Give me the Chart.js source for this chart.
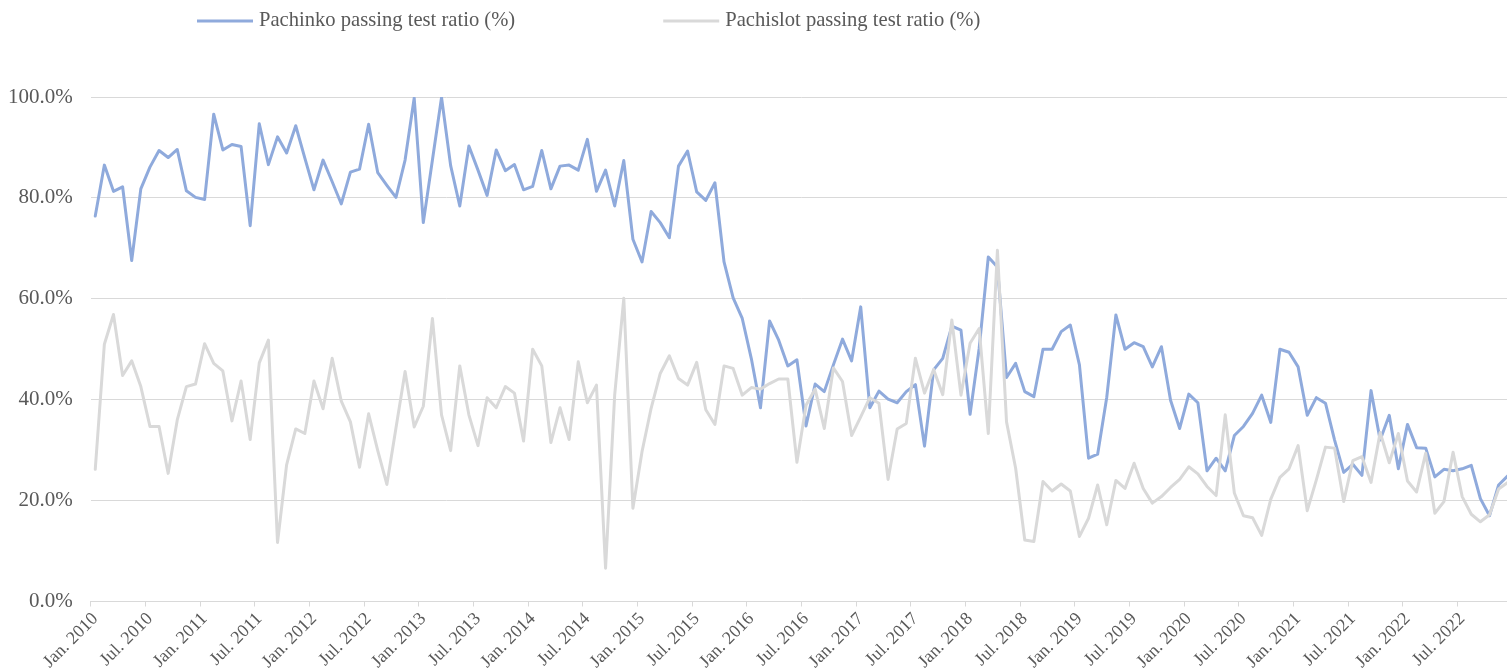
<!DOCTYPE html>
<html>
<head>
<meta charset="utf-8">
<script src="https://cdn.jsdelivr.net/npm/chart.js@4.4.1/dist/chart.umd.min.js"></script>
<style>
  html, body { margin: 0; padding: 0; background: #fff; overflow: hidden; }
  #wrap { width: 1525px; height: 670px; }
</style>
</head>
<body>
<div id="wrap"><canvas id="chart-area" width="1525" height="670"></canvas></div>
<script>
// monthly series, Jan. 2010 - Dec. 2022
const months = ['Jan.', 'Feb.', 'Mar.', 'Apr.', 'May', 'Jun.', 'Jul.', 'Aug.', 'Sep.', 'Oct.', 'Nov.', 'Dec.'];
const years = [2010, 2011, 2012, 2013, 2014, 2015, 2016, 2017, 2018, 2019, 2020, 2021, 2022];

const pachinko = [
  76.4, 86.5, 81.3, 82.2, 67.6, 81.8, 86.1, 89.4, 88.0, 89.6, 81.4, 80.1,
  79.7, 96.6, 89.5, 90.6, 90.2, 74.5, 94.7, 86.6, 92.1, 88.9, 94.3, 87.9,
  81.6, 87.5, 83.2, 78.8, 85.1, 85.7, 94.6, 85.0, 82.5, 80.1, 87.5, 99.8,
  75.1, 87.5, 99.9, 86.4, 78.4, 90.3, 85.5, 80.5, 89.5, 85.4, 86.6, 81.6,
  82.3, 89.4, 81.8, 86.3, 86.5, 85.5, 91.6, 81.3, 85.5, 78.4, 87.4, 71.8,
  67.3, 77.3, 75.1, 72.1, 86.3, 89.3, 81.2, 79.5, 83.0, 67.3, 60.2, 56.1,
  48.1, 38.4, 55.6, 51.8, 46.7, 47.9, 34.8, 43.1, 41.6, 46.9, 52.0, 47.7,
  58.4, 38.4, 41.7, 40.1, 39.4, 41.6, 43.0, 30.8, 45.9, 48.2, 54.6, 53.8,
  37.1, 50.2, 68.3, 66.3, 44.4, 47.2, 41.6, 40.6, 50.0, 50.0, 53.5, 54.8,
  46.9, 28.4, 29.2, 40.5, 56.8, 50.0, 51.3, 50.5, 46.5, 50.5, 39.9, 34.3,
  41.1, 39.4, 25.9, 28.4, 25.9, 32.9, 34.7, 37.3, 40.9, 35.5, 50.0, 49.4,
  46.5, 36.9, 40.4, 39.3, 32.0, 25.6, 27.2, 25.0, 41.8, 32.0, 36.9, 26.3,
  35.1, 30.5, 30.4, 24.7, 26.2, 25.9, 26.3, 27.0, 20.4, 17.0, 23.1, 24.9
];

const pachislot = [
  26.2, 51.0, 56.9, 44.8, 47.7, 42.6, 34.7, 34.7, 25.4, 36.0, 42.6, 43.1,
  51.1, 47.2, 45.7, 35.8, 43.7, 32.1, 47.3, 51.8, 11.7, 27.1, 34.2, 33.3,
  43.7, 38.2, 48.2, 39.7, 35.6, 26.6, 37.2, 29.9, 23.2, 34.4, 45.6, 34.6,
  38.7, 56.1, 37.0, 29.9, 46.7, 37.0, 30.9, 40.4, 38.4, 42.6, 41.3, 31.8,
  50.0, 46.7, 31.5, 38.4, 32.1, 47.5, 39.4, 42.9, 6.6, 40.9, 60.1, 18.5,
  29.7, 38.3, 45.2, 48.7, 44.2, 42.9, 47.4, 38.0, 35.1, 46.7, 46.2, 40.9,
  42.4, 42.1, 43.2, 44.1, 44.1, 27.6, 38.9, 42.1, 34.3, 46.3, 43.6, 32.9,
  36.6, 40.4, 39.3, 24.2, 34.2, 35.3, 48.2, 41.3, 46.0, 41.0, 55.8, 40.9,
  51.2, 54.1, 33.3, 69.6, 35.6, 26.4, 12.2, 11.9, 23.8, 21.9, 23.3, 21.9,
  12.9, 16.5, 23.1, 15.2, 24.0, 22.4, 27.4, 22.4, 19.5, 20.8, 22.6, 24.2,
  26.7, 25.3, 22.8, 21.0, 37.0, 21.5, 17.0, 16.6, 13.1, 20.3, 24.6, 26.3,
  30.9, 18.0, 24.1, 30.6, 30.4, 19.8, 27.9, 28.7, 23.6, 33.5, 27.5, 33.3,
  23.9, 21.7, 29.4, 17.5, 19.8, 29.6, 20.8, 17.3, 15.8, 17.2, 22.3, 23.6
];

const yTicks = [0, 20, 40, 60, 80, 100];

const labels = [];
years.forEach(y => months.forEach(m => labels.push(m + ' ' + y)));

const FONT = 'Liberation Serif';
const TEXT = '#595959';
const GRID = '#D9D9D9';

// legend drawn as one row of line samples above the plot
const legendRow = {
  id: 'legendRow',
  afterDraw(chart) {
    var ctx = chart.ctx;
    var x = 197, y = 21;
    ctx.save();
    ctx.font = '20.6px "' + FONT + '"';
    ctx.textBaseline = 'middle';
    ctx.lineCap = 'butt';
    chart.data.datasets.forEach(ds => {
      ctx.strokeStyle = ds.borderColor;
      ctx.lineWidth = 3;
      ctx.beginPath();
      ctx.moveTo(x, y);
      ctx.lineTo(x + 56, y);
      ctx.stroke();
      ctx.fillStyle = TEXT;
      ctx.fillText(ds.label, x + 62, y);
      x += 62 + ctx.measureText(ds.label).width + 148;
    });
    ctx.restore();
  }
};

function getConfig() {
  var config = {
    type: 'line',
    data: {
      labels: labels,
      datasets: [{
        label: 'Pachinko passing test ratio (%)',
        data: pachinko,
        borderColor: '#8FAADC',
        borderWidth: 3,
        order: 1
      }, {
        label: 'Pachislot passing test ratio (%)',
        data: pachislot,
        borderColor: '#D9D9D9',
        borderWidth: 3,
        order: 0
      }]
    },
    options: {
      responsive: false,
      animation: false,
      devicePixelRatio: 1,
      layout: { padding: { top: 97, left: 0, right: 0, bottom: 0 } },
      elements: {
        line: { tension: 0, borderJoinStyle: 'round', borderCapStyle: 'round' },
        point: { radius: 0, hoverRadius: 0 }
      },
      plugins: {
        legend: { display: false },
        tooltip: { enabled: false }
      },
      scales: {
        x: {
          offset: true,
          afterFit: s => { s.height = 68.5; },
          border: { display: true, color: GRID, width: 1 },
          grid: {
            offset: true,
            drawOnChartArea: false,
            drawTicks: true,
            tickLength: 5,
            color: c => (c.index % 6 === 0 ? GRID : 'rgba(0,0,0,0)')
          },
          ticks: {
            autoSkip: false,
            minRotation: 45,
            maxRotation: 45,
            padding: 2,
            color: TEXT,
            font: { family: FONT, size: 18 },
            callback: (v, i) => (i % 6 === 0 ? labels[i] : '')
          }
        },
        y: {
          min: 0,
          max: 100,
          afterFit: s => { s.width = 90.7; },
          afterBuildTicks: s => { s.ticks = yTicks.map(v => ({ value: v })); },
          border: { display: false },
          grid: { color: GRID, lineWidth: 1, drawTicks: false },
          ticks: {
            padding: 18,
            color: TEXT,
            font: { family: FONT, size: 21 },
            callback: v => v.toFixed(1) + '%'
          }
        }
      }
    },
    plugins: [legendRow]
  };
  return config;
}

var ctx = document.getElementById('chart-area').getContext('2d');
window.myLine = new Chart(ctx, getConfig());
</script>
</body>
</html>
